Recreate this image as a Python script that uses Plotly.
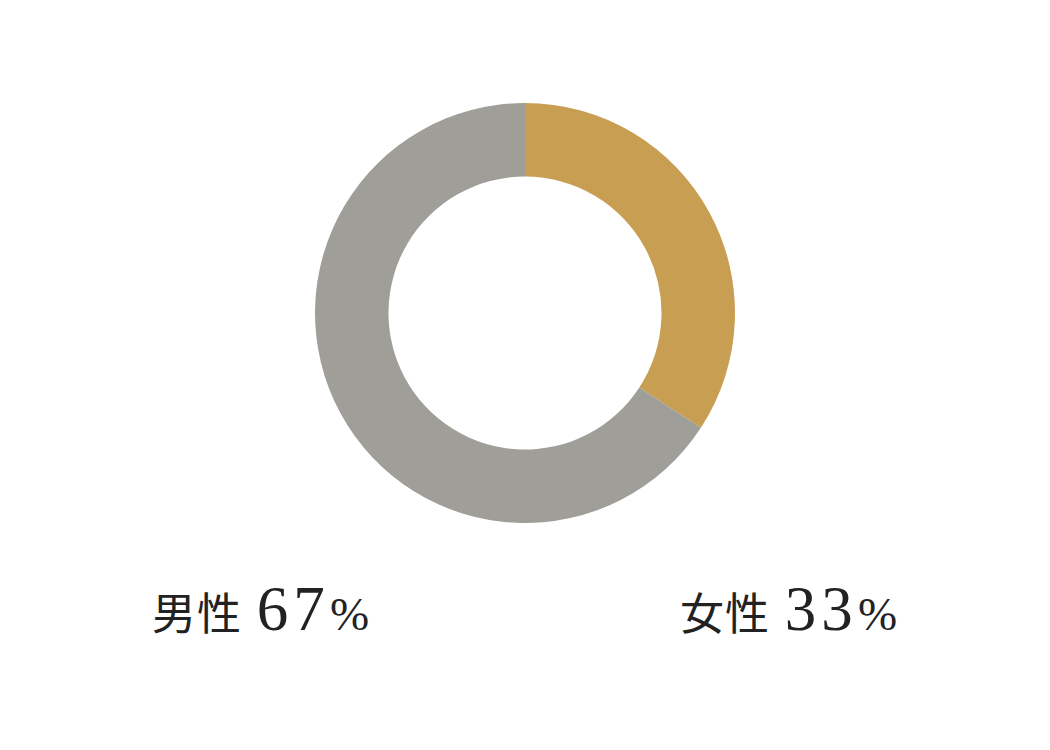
import plotly.graph_objects as go

categories = ["女性", "男性"]
values = [34.2, 65.8]
label_pcts = ["33", "67"]
colors = ["#C89E53", "#A09E98"]

W, H = 1050, 750
OX, OY = 8, 8  # page offset

def px(x):
    return (x - OX) / W

def py(y):
    return (H - (y - OY)) / H

cx, cy, R = 525, 313, 210

fig = go.Figure(go.Pie(
    labels=categories,
    values=values,
    hole=0.65,
    sort=False,
    direction="clockwise",
    rotation=0,
    marker=dict(colors=colors, line=dict(width=0)),
    textinfo="none",
    hoverinfo="label+percent",
    showlegend=False,
    domain=dict(x=[px(cx - R), px(cx + R)], y=[py(cy + R), py(cy - R)]),
))

def lbl(name, pct):
    return (f'<span style="font-family:\'Noto Sans CJK JP\';font-size:44px">{name[0]}</span>'
            f'<span style="font-size:4px">&nbsp;</span>'
            f'<span style="font-family:\'Noto Sans CJK JP\';font-size:44px">{name[1]}</span>'
            f'<span style="font-size:60px">&nbsp;</span>'
            f'<span style="font-family:\'Liberation Serif\';font-size:63px">{pct[0]}</span>'
            f'<span style="font-size:20px">&nbsp;</span>'
            f'<span style="font-family:\'Liberation Serif\';font-size:63px">{pct[1]}</span>'
            f'<span style="font-size:20px">&nbsp;</span>'
            f'<span style="font-family:\'Liberation Serif\';font-size:47px">%</span>')

for name, pct, x0 in [(categories[1], label_pcts[1], 150), (categories[0], label_pcts[0], 678)]:
    fig.add_annotation(x=px(x0), y=py(607), xref="paper", yref="paper",
                       xanchor="left", yanchor="middle", showarrow=False,
                       text=lbl(name, pct), font=dict(color="#222222"))

fig.update_layout(width=W, height=H, margin=dict(l=0, r=0, t=0, b=0),
                  paper_bgcolor="white", plot_bgcolor="white")
fig.write_html("out.html")
